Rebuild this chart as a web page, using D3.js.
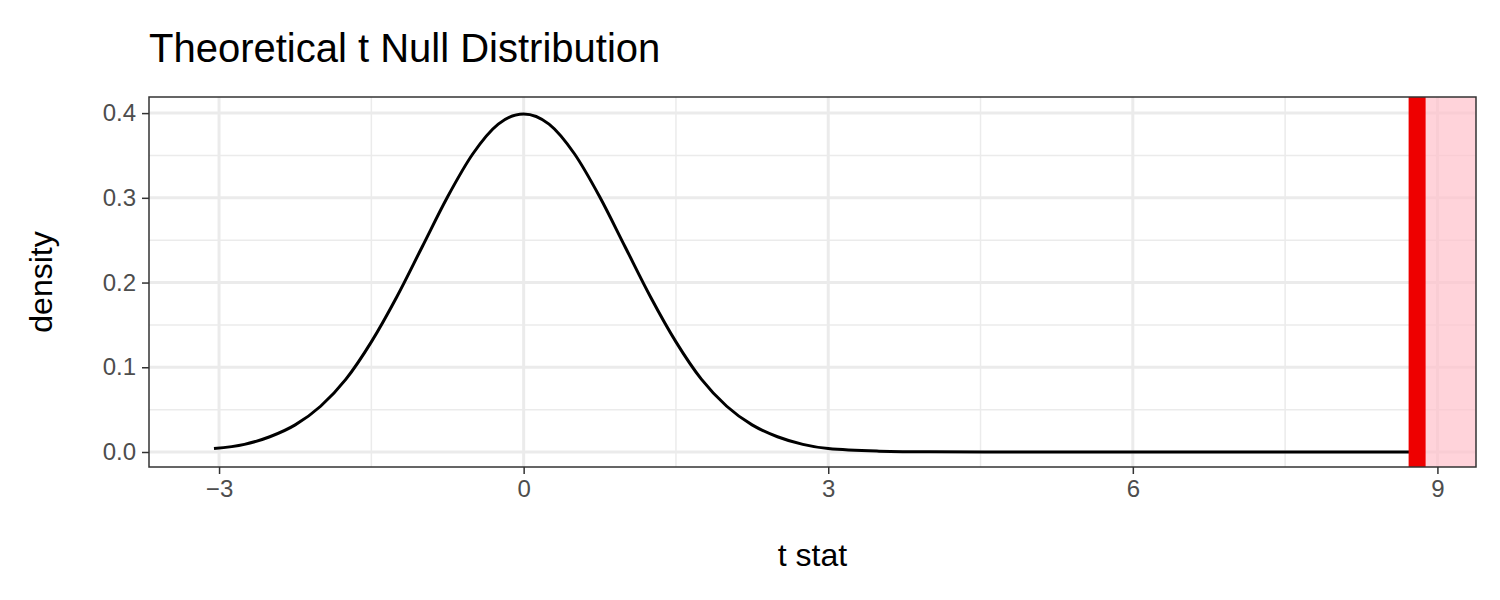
<!DOCTYPE html>
<html><head><meta charset="utf-8">
<script src="https://cdn.jsdelivr.net/npm/d3@7"></script>
<style>body{margin:0;background:#fff}text{font-family:"Liberation Sans",Arial,sans-serif}</style>
</head><body><svg id="chart" width="1500" height="600"></svg>
<script>
// curve points
const tValues = [-3.05,-2.75,-2.5,-2.25,-2,-1.75,-1.5,-1.25,-1,-0.75,-0.5,-0.25,0,0.25,0.5,0.75,1,1.25,1.5,1.75,2,2.25,2.5,2.75,3,3.5,4,5,6,7,8,8.8];
const densityValues = [0.004,0.009,0.018,0.032,0.054,0.086,0.130,0.183,0.242,0.301,0.352,0.387,0.399,0.387,0.352,0.301,0.242,0.183,0.130,0.086,0.054,0.032,0.018,0.009,0.004,0.001,0.0002,0,0,0,0,0];
const xTicks = [-3,0,3,6,9];
const xMinor = [-1.5,1.5,4.5,7.5];
const yTicks = [0,0.1,0.2,0.3,0.4];
const yMinor = [0.05,0.15,0.25,0.35];
const obsStat = 8.8;

const svg = d3.select("#chart");
const pLeft = 149, pRight = 1476, pTop = 97, pBottom = 467;
const x = d3.scaleLinear().domain([-3.69, 9.38]).range([pLeft, pRight]);
const y = d3.scaleLinear().domain([-0.0177, 0.419]).range([pBottom, pTop]);

// minor then major grid
svg.selectAll(".gxm").data(xMinor).enter().append("line")
    .attr("x1", d => x(d)).attr("x2", d => x(d)).attr("y1", pTop).attr("y2", pBottom)
    .attr("stroke", "#ebebeb").attr("stroke-width", 1.5);
svg.selectAll(".gym").data(yMinor).enter().append("line")
    .attr("y1", d => y(d)).attr("y2", d => y(d)).attr("x1", pLeft).attr("x2", pRight)
    .attr("stroke", "#ebebeb").attr("stroke-width", 1.5);
svg.selectAll(".gx").data(xTicks).enter().append("line")
    .attr("x1", d => x(d)).attr("x2", d => x(d)).attr("y1", pTop).attr("y2", pBottom)
    .attr("stroke", "#ebebeb").attr("stroke-width", 3);
svg.selectAll(".gy").data(yTicks).enter().append("line")
    .attr("y1", d => y(d)).attr("y2", d => y(d)).attr("x1", pLeft).attr("x2", pRight)
    .attr("stroke", "#ebebeb").attr("stroke-width", 3);

// shaded region beyond the observed stat
svg.append("rect")
    .attr("x", x(obsStat)).attr("width", pRight - x(obsStat))
    .attr("y", pTop).attr("height", pBottom - pTop)
    .attr("fill", "#ffc0cb").attr("opacity", 0.7);

const pts = tValues.map((t, i) => [t, densityValues[i]]);
svg.append("path").datum(pts)
    .attr("d", d3.line().x(d => x(d[0])).y(d => y(d[1])).curve(d3.curveMonotoneX))
    .attr("fill", "none").attr("stroke", "#000").attr("stroke-width", 3);

svg.append("line")
    .attr("x1", x(obsStat)).attr("x2", x(obsStat)).attr("y1", pTop).attr("y2", pBottom)
    .attr("stroke", "#ee0000").attr("stroke-width", 17);

svg.append("rect").attr("x", pLeft).attr("y", pTop).attr("width", pRight - pLeft).attr("height", pBottom - pTop)
    .attr("fill", "none").attr("stroke", "#333").attr("stroke-width", 1.5);

// axes
const xAxis = svg.append("g").attr("transform", `translate(0,${pBottom})`)
    .call(d3.axisBottom(x).tickValues(xTicks).tickSize(7).tickSizeOuter(0).tickPadding(6).tickFormat(d3.format("d")));
const yAxis = svg.append("g").attr("transform", `translate(${pLeft},0)`)
    .call(d3.axisLeft(y).tickValues(yTicks).tickSize(7).tickSizeOuter(0).tickPadding(6).tickFormat(d3.format(".1f")));
[xAxis, yAxis].forEach(a => {
    a.select(".domain").remove();
    a.selectAll(".tick line").attr("stroke", "#333").attr("stroke-width", 1.5);
    a.selectAll("text").attr("fill", "#4d4d4d").style("font-size", "24px");
});

svg.append("text").attr("x", 149).attr("y", 62).text("Theoretical t Null Distribution")
    .style("font-size", "40px").attr("fill", "#000");
svg.append("text").attr("x", (pLeft + pRight) / 2).attr("y", 566).attr("text-anchor", "middle")
    .text("t stat").style("font-size", "32px");
svg.append("text").attr("transform", `translate(52,${(pTop + pBottom) / 2}) rotate(-90)`)
    .attr("text-anchor", "middle").text("density").style("font-size", "32px");
</script></body></html>
